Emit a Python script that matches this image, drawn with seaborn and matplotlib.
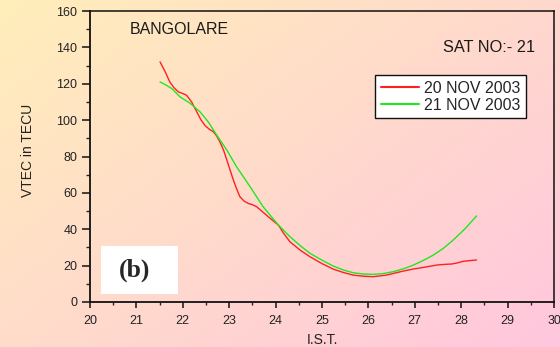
import numpy as np
import pandas as pd
import matplotlib
matplotlib.use("Agg")
import matplotlib.pyplot as plt
from matplotlib.patches import Rectangle
from matplotlib.ticker import MultipleLocator
import seaborn as sns

# VTEC over Bangalore, satellite 21 (IST hours past midnight continue beyond 24)
ist_nov20 = [21.51, 21.62, 21.72, 21.81, 21.90, 22.00, 22.08, 22.19, 22.30, 22.39,
             22.48, 22.57, 22.66, 22.73, 22.80, 22.88, 22.95, 23.02, 23.09, 23.16,
             23.23, 23.32, 23.41, 23.50, 23.59, 23.70, 23.80, 23.93, 24.06, 24.18,
             24.31, 24.53, 24.74, 25.00, 25.24, 25.45, 25.67, 25.88, 26.10, 26.39,
             26.75, 26.96, 27.18, 27.47, 27.65, 27.80, 27.92, 28.05, 28.20, 28.33]
vtec_nov20 = [132.0, 126.6, 121.0, 117.8, 115.6, 114.6, 113.7, 110.0, 104.6, 100.2,
              97.0, 95.0, 93.6, 91.3, 88.0, 83.4, 78.0, 72.5, 67.0, 62.2,
              57.9, 55.5, 54.2, 53.5, 52.4, 50.0, 47.8, 45.0, 42.3, 37.5,
              33.1, 28.5, 24.9, 21.1, 18.1, 16.3, 14.8, 14.2, 13.9, 14.8,
              17.0, 18.1, 19.0, 20.3, 20.7, 20.9, 21.5, 22.4, 22.8, 23.1]

ist_nov21 = [21.51, 21.63, 21.76, 21.94, 22.16, 22.37, 22.55, 22.73, 22.95, 23.16,
             23.45, 23.73, 24.06, 24.31, 24.53, 24.74, 25.00, 25.24, 25.45, 25.67,
             25.88, 26.10, 26.32, 26.54, 26.76, 26.97, 27.18, 27.40, 27.62, 27.83,
             28.08, 28.33]
vtec_nov21 = [121.0, 119.4, 117.4, 112.8, 109.2, 104.6, 99.0, 91.8, 83.5, 74.3,
              63.4, 52.4, 42.3, 35.9, 31.0, 26.8, 23.0, 19.8, 17.7, 16.1,
              15.4, 15.2, 15.6, 16.7, 18.3, 20.3, 22.8, 25.8, 29.6, 34.1,
              40.2, 47.3]

series_labels = ["20 NOV 2003", "21 NOV 2003"]
series_colors = ["#ff1f1f", "#1ee81e"]
x_ticks = [20, 21, 22, 23, 24, 25, 26, 27, 28, 29, 30]
y_ticks = [0, 20, 40, 60, 80, 100, 120, 140, 160]

df = pd.concat([
    pd.DataFrame({"IST": ist_nov20, "VTEC": vtec_nov20, "day": series_labels[0]}),
    pd.DataFrame({"IST": ist_nov21, "VTEC": vtec_nov21, "day": series_labels[1]}),
], ignore_index=True)

sns.set_theme(style="ticks")
plt.rcParams["font.family"] = ["Liberation Sans", "DejaVu Sans"]

fig = plt.figure(figsize=(5.6, 3.47), dpi=100)

# diagonal pale-yellow to pink backdrop
bg = fig.add_axes([0, 0, 1, 1], zorder=0)
bg.axis("off")
h, w = 347, 560
yy, xx = np.mgrid[0:h, 0:w]
t = (xx / w * 0.55 + yy / h * 0.45)
top_left = np.array([255, 238, 186]) / 255
bottom_right = np.array([255, 198, 222]) / 255
img = top_left[None, None, :] * (1 - t[..., None]) + bottom_right[None, None, :] * t[..., None]
bg.imshow(img, aspect="auto", extent=[0, 1, 0, 1], origin="upper")
bg.set_xlim(0, 1)
bg.set_ylim(0, 1)

ax = fig.add_axes([90 / 560, 45 / 347, 464 / 560, 291 / 347], zorder=1)
ax.set_facecolor("none")

sns.lineplot(data=df, x="IST", y="VTEC", hue="day", palette=series_colors,
             hue_order=series_labels, sort=False, estimator=None, linewidth=1.0,
             ax=ax)

ax.set_xlim(20, 30)
ax.set_ylim(0, 160)
ax.set_xticks(x_ticks)
ax.set_yticks(y_ticks)
ax.xaxis.set_minor_locator(MultipleLocator(0.5))
ax.yaxis.set_minor_locator(MultipleLocator(10))
ax.tick_params(axis="both", which="major", labelsize=9, colors="#111111",
               labelcolor="#222222", width=1.1, direction="out")
ax.tick_params(axis="y", which="major", length=6, pad=3)
ax.tick_params(axis="x", which="major", length=4, pad=5)
ax.tick_params(axis="y", which="minor", length=3, width=1.0)
ax.tick_params(axis="x", which="minor", length=2.5, width=1.0)

for side in ["left", "bottom"]:
    ax.spines[side].set_linewidth(1.3)
    ax.spines[side].set_color("#111111")
for side in ["top", "right"]:
    ax.spines[side].set_visible(True)
    ax.spines[side].set_linewidth(1.1)
    ax.spines[side].set_color("#111111")

ax.set_xlabel("I.S.T.", fontsize=10, color="#222222")
ax.set_ylabel("VTEC in TECU", fontsize=10, color="#222222")
ax.xaxis.set_label_coords(0.5, -0.108)
ax.yaxis.set_label_coords(-0.118, 0.52)

ax.text(0.192, 0.938, "BANGOLARE", transform=ax.transAxes, ha="center",
        va="center", fontsize=11.5, color="#1a1a1a")
ax.text(0.959, 0.876, "SAT NO:- 21", transform=ax.transAxes, ha="right",
        va="center", fontsize=11.8, color="#1a1a1a")

ax.add_patch(Rectangle((0.0237, 0.0275), 0.166, 0.165, transform=ax.transAxes,
                       facecolor="white", edgecolor="none", zorder=3))
ax.text(0.097, 0.108, "(b)", transform=ax.transAxes, ha="center", va="center",
        fontsize=18.5, fontweight="bold", family="Liberation Serif", zorder=4)

leg = ax.legend(loc="upper right", bbox_to_anchor=(0.94, 0.78), fontsize=11.5,
                frameon=True, fancybox=False, framealpha=1, edgecolor="#111111",
                handlelength=2.4, handletextpad=0.3, borderpad=0.35,
                labelspacing=0.12, borderaxespad=0)
leg.get_frame().set_linewidth(1.0)
for line in leg.get_lines():
    line.set_linewidth(1.5)

fig.savefig("out.png", dpi=100)
